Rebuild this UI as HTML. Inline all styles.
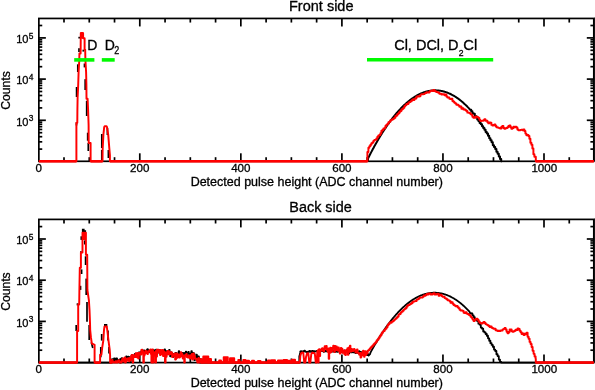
<!DOCTYPE html><html><head><meta charset="utf-8"><style>html,body{margin:0;padding:0;background:#fff;overflow:hidden}svg{display:block;will-change:transform}</style></head><body><svg width="595" height="390" viewBox="0 0 595 390" font-family='"Liberation Sans", sans-serif' fill="#000"><style>text{stroke:#000;stroke-width:0.3px;paint-order:stroke}</style><g stroke="#000" stroke-width="1.7" fill="none"><line x1="64" y1="161.3" x2="64" y2="157.2"/><line x1="64" y1="18.45" x2="64" y2="22.55"/><line x1="89.27" y1="161.3" x2="89.27" y2="157.2"/><line x1="89.27" y1="18.45" x2="89.27" y2="22.55"/><line x1="114.53" y1="161.3" x2="114.53" y2="157.2"/><line x1="114.53" y1="18.45" x2="114.53" y2="22.55"/><line x1="139.79" y1="161.3" x2="139.79" y2="153.3"/><line x1="139.79" y1="18.45" x2="139.79" y2="26.45"/><line x1="165.06" y1="161.3" x2="165.06" y2="157.2"/><line x1="165.06" y1="18.45" x2="165.06" y2="22.55"/><line x1="190.32" y1="161.3" x2="190.32" y2="157.2"/><line x1="190.32" y1="18.45" x2="190.32" y2="22.55"/><line x1="215.58" y1="161.3" x2="215.58" y2="157.2"/><line x1="215.58" y1="18.45" x2="215.58" y2="22.55"/><line x1="240.84" y1="161.3" x2="240.84" y2="153.3"/><line x1="240.84" y1="18.45" x2="240.84" y2="26.45"/><line x1="266.11" y1="161.3" x2="266.11" y2="157.2"/><line x1="266.11" y1="18.45" x2="266.11" y2="22.55"/><line x1="291.37" y1="161.3" x2="291.37" y2="157.2"/><line x1="291.37" y1="18.45" x2="291.37" y2="22.55"/><line x1="316.63" y1="161.3" x2="316.63" y2="157.2"/><line x1="316.63" y1="18.45" x2="316.63" y2="22.55"/><line x1="341.9" y1="161.3" x2="341.9" y2="153.3"/><line x1="341.9" y1="18.45" x2="341.9" y2="26.45"/><line x1="367.16" y1="161.3" x2="367.16" y2="157.2"/><line x1="367.16" y1="18.45" x2="367.16" y2="22.55"/><line x1="392.42" y1="161.3" x2="392.42" y2="157.2"/><line x1="392.42" y1="18.45" x2="392.42" y2="22.55"/><line x1="417.69" y1="161.3" x2="417.69" y2="157.2"/><line x1="417.69" y1="18.45" x2="417.69" y2="22.55"/><line x1="442.95" y1="161.3" x2="442.95" y2="153.3"/><line x1="442.95" y1="18.45" x2="442.95" y2="26.45"/><line x1="468.21" y1="161.3" x2="468.21" y2="157.2"/><line x1="468.21" y1="18.45" x2="468.21" y2="22.55"/><line x1="493.47" y1="161.3" x2="493.47" y2="157.2"/><line x1="493.47" y1="18.45" x2="493.47" y2="22.55"/><line x1="518.74" y1="161.3" x2="518.74" y2="157.2"/><line x1="518.74" y1="18.45" x2="518.74" y2="22.55"/><line x1="544" y1="161.3" x2="544" y2="153.3"/><line x1="544" y1="18.45" x2="544" y2="26.45"/><line x1="569.26" y1="161.3" x2="569.26" y2="157.2"/><line x1="569.26" y1="18.45" x2="569.26" y2="22.55"/><line x1="38.85" y1="149.1" x2="42.25" y2="149.1"/><line x1="593.8" y1="149.1" x2="590.4" y2="149.1"/><line x1="38.85" y1="141.84" x2="42.25" y2="141.84"/><line x1="593.8" y1="141.84" x2="590.4" y2="141.84"/><line x1="38.85" y1="136.7" x2="42.25" y2="136.7"/><line x1="593.8" y1="136.7" x2="590.4" y2="136.7"/><line x1="38.85" y1="132.7" x2="42.25" y2="132.7"/><line x1="593.8" y1="132.7" x2="590.4" y2="132.7"/><line x1="38.85" y1="129.44" x2="42.25" y2="129.44"/><line x1="593.8" y1="129.44" x2="590.4" y2="129.44"/><line x1="38.85" y1="126.68" x2="42.25" y2="126.68"/><line x1="593.8" y1="126.68" x2="590.4" y2="126.68"/><line x1="38.85" y1="124.29" x2="42.25" y2="124.29"/><line x1="593.8" y1="124.29" x2="590.4" y2="124.29"/><line x1="38.85" y1="122.19" x2="42.25" y2="122.19"/><line x1="593.8" y1="122.19" x2="590.4" y2="122.19"/><line x1="38.85" y1="120.3" x2="45.85" y2="120.3"/><line x1="593.8" y1="120.3" x2="586.8" y2="120.3"/><line x1="38.85" y1="107.9" x2="42.25" y2="107.9"/><line x1="593.8" y1="107.9" x2="590.4" y2="107.9"/><line x1="38.85" y1="100.64" x2="42.25" y2="100.64"/><line x1="593.8" y1="100.64" x2="590.4" y2="100.64"/><line x1="38.85" y1="95.5" x2="42.25" y2="95.5"/><line x1="593.8" y1="95.5" x2="590.4" y2="95.5"/><line x1="38.85" y1="91.5" x2="42.25" y2="91.5"/><line x1="593.8" y1="91.5" x2="590.4" y2="91.5"/><line x1="38.85" y1="88.24" x2="42.25" y2="88.24"/><line x1="593.8" y1="88.24" x2="590.4" y2="88.24"/><line x1="38.85" y1="85.48" x2="42.25" y2="85.48"/><line x1="593.8" y1="85.48" x2="590.4" y2="85.48"/><line x1="38.85" y1="83.09" x2="42.25" y2="83.09"/><line x1="593.8" y1="83.09" x2="590.4" y2="83.09"/><line x1="38.85" y1="80.99" x2="42.25" y2="80.99"/><line x1="593.8" y1="80.99" x2="590.4" y2="80.99"/><line x1="38.85" y1="79.1" x2="45.85" y2="79.1"/><line x1="593.8" y1="79.1" x2="586.8" y2="79.1"/><line x1="38.85" y1="66.7" x2="42.25" y2="66.7"/><line x1="593.8" y1="66.7" x2="590.4" y2="66.7"/><line x1="38.85" y1="59.44" x2="42.25" y2="59.44"/><line x1="593.8" y1="59.44" x2="590.4" y2="59.44"/><line x1="38.85" y1="54.3" x2="42.25" y2="54.3"/><line x1="593.8" y1="54.3" x2="590.4" y2="54.3"/><line x1="38.85" y1="50.3" x2="42.25" y2="50.3"/><line x1="593.8" y1="50.3" x2="590.4" y2="50.3"/><line x1="38.85" y1="47.04" x2="42.25" y2="47.04"/><line x1="593.8" y1="47.04" x2="590.4" y2="47.04"/><line x1="38.85" y1="44.28" x2="42.25" y2="44.28"/><line x1="593.8" y1="44.28" x2="590.4" y2="44.28"/><line x1="38.85" y1="41.89" x2="42.25" y2="41.89"/><line x1="593.8" y1="41.89" x2="590.4" y2="41.89"/><line x1="38.85" y1="39.79" x2="42.25" y2="39.79"/><line x1="593.8" y1="39.79" x2="590.4" y2="39.79"/><line x1="38.85" y1="37.9" x2="45.85" y2="37.9"/><line x1="593.8" y1="37.9" x2="586.8" y2="37.9"/><line x1="38.85" y1="25.5" x2="42.25" y2="25.5"/><line x1="593.8" y1="25.5" x2="590.4" y2="25.5"/><rect x="38.85" y="18.45" width="554.95" height="142.85" fill="none"/><line x1="594.6" y1="17.6" x2="594.6" y2="161.3" stroke-width="0.9"/></g><polygon fill="#ff0000" points="80.8,32.9 83.1,32.9 83.1,38.6 80.8,38.6"/><g stroke="#000" stroke-width="1.7"><line x1="79.2" y1="36.8" x2="79.2" y2="38.5"/><line x1="79.0" y1="48.2" x2="79.0" y2="52"/><line x1="77.8" y1="64.3" x2="77.8" y2="72"/><line x1="76.6" y1="87" x2="76.6" y2="97"/><line x1="76.5" y1="122.5" x2="76.5" y2="125.5"/><line x1="83.3" y1="49.7" x2="83.3" y2="51.6"/><line x1="84.5" y1="63.5" x2="84.5" y2="67.4"/><line x1="85.2" y1="79.2" x2="85.2" y2="90"/><line x1="86.7" y1="100.8" x2="86.7" y2="116"/><line x1="87.7" y1="132.7" x2="87.7" y2="140.7"/><line x1="88.3" y1="143" x2="88.3" y2="151"/><line x1="101.8" y1="134" x2="101.8" y2="148"/><line x1="101.8" y1="150" x2="101.8" y2="160"/><line x1="107.4" y1="128" x2="107.4" y2="135"/><line x1="108.4" y1="150" x2="108.4" y2="158"/></g><polyline fill="none" stroke="#000" stroke-width="2" stroke-linejoin="round" points="368,161.3 368,158.45 368.5,157.46 369,156.47 369.5,155.49 370,154.52 370.5,153.56 371,152.6 371.5,151.65 372,150.71 372.5,149.77 373,148.84 373.5,147.92 374,147 374.5,146.1 375,145.2 375.5,144.3 376,143.42 376.5,142.54 377,141.66 377.5,140.8 378,139.94 378.5,139.09 379,138.25 379.5,137.41 380,136.58 380.5,135.76 381,134.94 381.5,134.14 382,133.34 382.5,132.54 383,131.76 383.5,130.98 384,130.21 384.5,129.44 385,128.68 385.5,127.93 386,127.19 386.5,126.45 387,125.73 387.5,125 388,124.29 388.5,123.58 389,122.88 389.5,122.19 390,121.51 390.5,120.83 391,120.16 391.5,119.5 392,118.84 392.5,118.19 393,117.55 393.5,116.92 394,116.29 394.5,115.67 395,115.06 395.5,114.46 396,113.86 396.5,113.27 397,112.69 397.5,112.11 398,111.54 398.5,110.98 399,110.43 399.5,109.88 400,109.35 400.5,108.81 401,108.29 401.5,107.77 402,107.27 402.5,106.76 403,106.27 403.5,105.78 404,105.31 404.5,104.83 405,104.37 405.5,103.91 406,103.46 406.5,103.02 407,102.59 407.5,102.16 408,101.74 408.5,101.33 409,100.93 409.5,100.53 410,100.14 410.5,99.76 411,99.38 411.5,99.02 412,98.66 412.5,98.3 413,97.96 413.5,97.62 414,97.29 414.5,96.97 415,96.66 415.5,96.35 416,96.05 416.5,95.76 417,95.48 417.5,95.2 418,94.93 418.5,94.67 419,94.42 419.5,94.17 420,93.93 420.5,93.7 421,93.48 421.5,93.27 422,93.06 422.5,92.86 423,92.67 423.5,92.48 424,92.3 424.5,92.13 425,91.97 425.5,91.82 426,91.67 426.5,91.53 427,91.4 427.5,91.28 428,91.16 428.5,91.05 429,90.95 429.5,90.86 430,90.78 430.5,90.7 431,90.63 431.5,90.57 432,90.51 432.5,90.47 433,90.43 433.5,90.4 434,90.38 434.5,90.36 435,90.35 435.5,90.35 436,90.36 436.5,90.38 437,90.4 437.5,90.43 438,90.47 438.5,90.52 439,90.58 439.5,90.64 440,90.71 440.5,90.79 441,90.88 441.5,90.97 442,91.07 442.5,91.18 443,91.3 443.5,91.43 444,91.56 444.5,91.7 445,91.85 445.5,92.01 446,92.17 446.5,92.35 447,92.53 447.5,92.72 448,92.91 448.5,93.12 449,93.33 449.5,93.55 450,93.78 450.5,94.02 451,94.26 451.5,94.52 452,94.78 452.5,95.04 453,95.32 453.5,95.61 454,95.9 454.5,96.2 455,96.51 455.5,96.82 456,97.15 456.5,97.48 457,97.82 457.5,98.17 458,98.53 458.5,98.89 459,99.26 459.5,99.65 460,100.03 460.5,100.43 461,100.84 461.5,101.25 462,101.67 462.5,102.1 463,102.54 463.5,102.98 464,103.44 464.5,103.9 465,104.37 465.5,104.85 466,105.33 466.5,105.83 467,106.33 467.5,106.84 468,107.36 468.5,107.89 469,108.42 469.5,108.96 470,109.78 471.2,109.78 471.2,111.17 472.4,111.17 472.4,113.23 473.6,113.23 473.6,113.67 474.8,113.67 474.8,115.94 476,115.94 476,116.77 477.2,116.77 477.2,119.56 478.4,119.56 478.4,120.92 479.6,120.92 479.6,123.03 480.8,123.03 480.8,124.14 482,124.14 482,126.27 483.2,126.27 483.2,127.88 484.4,127.88 484.4,129.63 485.6,129.63 485.6,131.89 486.8,131.89 486.8,133.4 488,133.4 488,135.76 489.2,135.76 489.2,138.23 490.4,138.23 490.4,140.15 491.6,140.15 491.6,142.18 492.8,142.18 492.8,145.33 494,145.33 494,146.88 495.2,146.88 495.2,148.99 496.4,148.99 496.4,151.64 497.6,151.64 497.6,153.84 498.8,153.84 498.8,156.38 500,156.38 500,158.92 501.2,158.92 501.2,161.3 502,161.3 502,161.3"/><polyline fill="none" stroke="#ff0000" stroke-width="1.95" stroke-linejoin="round" points="38.85,161.3 76.4,161.3 76.4,122.7 77.3,122.7 77.4,110 77.6,98 78.2,85 78.6,72 79.3,60 79.4,53.5 80.6,53.5 80.8,33 81,32.9 83,32.9 83.1,33.5 83.1,38.2 84.6,38.2 84.6,49.7 85.2,49.7 85.4,60 86.1,72 86.4,85 86.5,98.7 87.6,98.7 88.1,110 88.6,125 88.7,143 90.6,143 90.6,161.3 102.5,161.3 102.5,161.3 102.6,152 102.7,148.2 103.4,134.7 104.2,127 104.8,126.2 106.4,126.2 107,127 108.2,134.7 109.3,148.2 109.9,155 109.9,161.3 367.4,161.3 367.4,152 368.4,152 368.4,147.75 369.4,147.75 369.4,146.13 370.4,146.13 370.4,144.76 371.4,144.76 371.4,143.34 372.4,143.34 372.4,142.55 373.4,142.55 373.4,140.87 374.4,140.87 374.4,139.85 375.4,139.85 375.4,139.74 376.4,139.74 376.4,138.58 377.4,138.58 377.4,136.79 378.4,136.79 378.4,135.37 379.4,135.37 379.4,134.93 380.4,134.93 380.4,133.15 381.4,133.15 381.4,130.76 382.4,130.76 382.4,129.94 383.4,129.94 383.4,128.59 384.4,128.59 384.4,128.26 385.4,128.26 385.4,126.02 386.4,126.02 386.4,124.63 387.4,124.63 387.4,124.03 388.4,124.03 388.4,122.33 389.4,122.33 389.4,121.71 390.4,121.71 390.4,120.27 391.4,120.27 391.4,119.66 392.4,119.66 392.4,119.32 393.4,119.32 393.4,118.54 394.4,118.54 394.4,117.65 395.4,117.65 395.4,116.03 396.4,116.03 396.4,115.46 397.4,115.46 397.4,114.04 398.4,114.04 398.4,113.15 399.4,113.15 399.4,111.8 400.4,111.8 400.4,111.09 401.4,111.09 401.4,109.58 402.4,109.58 402.4,108.69 403.4,108.69 403.4,107.86 404.4,107.86 404.4,105.95 405.4,105.95 405.4,105.13 406.4,105.13 406.4,103.96 407.4,103.96 407.4,104.08 408.4,104.08 408.4,102.46 409.4,102.46 409.4,102.1 410.4,102.1 410.4,101.39 411.4,101.39 411.4,100.42 412.4,100.42 412.4,99.35 413.4,99.35 413.4,99.98 414.4,99.98 414.4,98.83 415.4,98.83 415.4,98.51 416.4,98.51 416.4,96.77 417.4,96.77 417.4,96.33 418.4,96.33 418.4,96.53 419.4,96.53 419.4,96.22 420.4,96.22 420.4,94.6 421.4,94.6 421.4,94.2 422.4,94.2 422.4,94.28 423.4,94.28 423.4,94.13 424.4,94.13 424.4,93.37 425.4,93.37 425.4,93.01 426.4,93.01 426.4,92.13 427.4,92.13 427.4,92.53 428.4,92.53 428.4,92.46 429.4,92.46 429.4,91.46 430.4,91.46 430.4,90.7 431.4,90.7 431.4,90.7 432.4,90.7 432.4,91.12 433.4,91.12 433.4,89.89 434.4,89.89 434.4,91 435.4,91 435.4,91.4 436.4,91.4 436.4,91.93 437.4,91.93 437.4,92.24 438.4,92.24 438.4,92.76 439.4,92.76 439.4,93.82 440.4,93.82 440.4,93.7 441.4,93.7 441.4,94.46 442.4,94.46 442.4,94.14 443.4,94.14 443.4,94.34 444.4,94.34 444.4,95.2 445.4,95.2 445.4,94.54 446.4,94.54 446.4,96.57 447.4,96.57 447.4,97.44 448.4,97.44 448.4,97.47 449.4,97.47 449.4,98.85 450.4,98.85 450.4,99 451.4,99 451.4,98.8 452.4,98.8 452.4,100.92 453.4,100.92 453.4,101.68 454.4,101.68 454.4,102.87 455.4,102.87 455.4,103.53 456.4,103.53 456.4,104.66 457.4,104.66 457.4,104.8 458.4,104.8 458.4,105.62 459.4,105.62 459.4,106.68 460.4,106.68 460.4,106.57 461.4,106.57 461.4,108.74 462.4,108.74 462.4,108.31 463.4,108.31 463.4,109.6 464.4,109.6 464.4,109.51 465.4,109.51 465.4,110.17 466.4,110.17 466.4,111.01 467.4,111.01 467.4,112.63 468.4,112.63 468.4,112.71 469.4,112.71 469.4,113.05 470.4,113.05 470.4,114.12 471.4,114.12 471.4,114.82 472.4,114.82 472.4,116.78 473.4,116.78 473.4,117.79 474.4,117.79 474.4,117.89 475.4,117.89 475.4,116.48 476.4,116.48 476.4,116.68 477.4,116.68 477.4,117.12 478.4,117.12 478.4,117.91 479.4,117.91 479.4,119.87 480.4,119.87 480.4,120.93 481.4,120.93 481.4,120.88 482.4,120.88 482.4,120.72 483.4,120.72 483.4,120.27 484.4,120.27 484.4,119.2 485.4,119.2 485.4,120.87 486.4,120.87 486.4,120.64 487.4,120.64 487.4,122.21 488.4,122.21 488.4,123.38 489.4,123.38 489.4,122.57 490.4,122.57 490.4,122.63 491.4,122.63 491.4,124.88 492.4,124.88 492.4,125.4 493.4,125.4 493.4,125.06 494.4,125.06 494.4,124.36 495.4,124.36 495.4,126.02 496.4,126.02 496.4,127.27 497.4,127.27 497.4,127.42 498.4,127.42 498.4,127.85 499.4,127.85 499.4,128.2 500.4,128.2 500.4,128.56 501.4,128.56 501.4,126.72 502.4,126.72 502.4,126.09 503.4,126.09 503.4,128.05 504.4,128.05 504.4,128.79 505.4,128.79 505.4,128.23 506.4,128.23 506.4,128.08 507.4,128.08 507.4,127.17 508.4,127.17 508.4,125.9 509.4,125.9 509.4,125.55 510.4,125.55 510.4,127.22 511.4,127.22 511.4,128.75 512.4,128.75 512.4,128.14 513.4,128.14 513.4,126.8 514.4,126.8 514.4,127.21 515.4,127.21 515.4,126.69 516.4,126.69 516.4,127.54 517.4,127.54 517.4,129.44 518.4,129.44 518.4,130.31 519.4,130.31 519.4,130.23 520.4,130.23 520.4,129.87 521.4,129.87 521.4,129.74 522.4,129.74 522.4,130.17 523.4,130.17 523.4,129.53 524.4,129.53 524.4,131.04 525.4,131.04 525.4,133.6 526.4,133.6 526.4,135.33 527.4,135.33 527.4,135.04 528.4,135.04 528.4,136.02 529.4,136.02 529.4,138.71 530.4,138.71 530.4,142.74 531.4,142.74 531.4,144.67 532.4,144.67 532.4,148.41 533.4,148.41 533.4,154.24 534.4,154.24 534.4,156.72 535.4,156.72 535.4,156.79 535.8,156.79 535.8,161.3 593.8,161.3"/><g stroke="#ff0000" stroke-width="2.5"><line x1="38.85" y1="161.3" x2="76.4" y2="161.3"/><line x1="90.6" y1="161.3" x2="102.5" y2="161.3"/><line x1="109.9" y1="161.3" x2="367.4" y2="161.3"/><line x1="535.8" y1="161.3" x2="593.8" y2="161.3"/></g><text x="38.74" y="172.1" text-anchor="middle" font-size="11.6">0</text><text x="139.79" y="172.1" text-anchor="middle" font-size="11.6">200</text><text x="240.84" y="172.1" text-anchor="middle" font-size="11.6">400</text><text x="341.9" y="172.1" text-anchor="middle" font-size="11.6">600</text><text x="442.95" y="172.1" text-anchor="middle" font-size="11.6">800</text><text x="544.3" y="172.1" text-anchor="middle" font-size="11.6">1000</text><text x="16.2" y="125.5" font-size="11.8" textLength="12.3" lengthAdjust="spacingAndGlyphs">10</text><text x="28.7" y="120.9" font-size="8.4">3</text><text x="16.2" y="84.3" font-size="11.8" textLength="12.3" lengthAdjust="spacingAndGlyphs">10</text><text x="28.7" y="79.7" font-size="8.4">4</text><text x="16.2" y="43.1" font-size="11.8" textLength="12.3" lengthAdjust="spacingAndGlyphs">10</text><text x="28.7" y="38.5" font-size="8.4">5</text><text transform="translate(9.5,90.47) rotate(-90)" x="-19.2" font-size="12" textLength="38.4" lengthAdjust="spacingAndGlyphs">Counts</text><text x="316.8" y="186.1" text-anchor="middle" font-size="12" textLength="252.3" lengthAdjust="spacingAndGlyphs">Detected pulse height (ADC channel number)</text><g stroke="#00fa00" stroke-width="3.6"><line x1="74.2" y1="59.9" x2="94.4" y2="59.9"/><line x1="101.8" y1="59.9" x2="114.7" y2="59.9"/><line x1="367" y1="59.8" x2="493.2" y2="59.8"/></g><text x="87.3" y="49.8" font-size="14">D</text><text x="104.8" y="49.8" font-size="14">D</text><text x="114.3" y="53.9" font-size="10.6" textLength="5" lengthAdjust="spacingAndGlyphs">2</text><text x="394.2" y="49.9" font-size="14" textLength="64.4" lengthAdjust="spacingAndGlyphs">Cl, DCl, D</text><text x="458.7" y="56.3" font-size="9.4" textLength="4.8" lengthAdjust="spacingAndGlyphs">2</text><text x="463.2" y="49.9" font-size="14" textLength="14" lengthAdjust="spacingAndGlyphs">Cl</text><text x="289" y="10.5" font-size="14" textLength="64.5" lengthAdjust="spacingAndGlyphs">Front side</text><g stroke="#000" stroke-width="1.7" fill="none"><line x1="64" y1="362.6" x2="64" y2="358.5"/><line x1="64" y1="219.4" x2="64" y2="223.5"/><line x1="89.27" y1="362.6" x2="89.27" y2="358.5"/><line x1="89.27" y1="219.4" x2="89.27" y2="223.5"/><line x1="114.53" y1="362.6" x2="114.53" y2="358.5"/><line x1="114.53" y1="219.4" x2="114.53" y2="223.5"/><line x1="139.79" y1="362.6" x2="139.79" y2="354.6"/><line x1="139.79" y1="219.4" x2="139.79" y2="227.4"/><line x1="165.06" y1="362.6" x2="165.06" y2="358.5"/><line x1="165.06" y1="219.4" x2="165.06" y2="223.5"/><line x1="190.32" y1="362.6" x2="190.32" y2="358.5"/><line x1="190.32" y1="219.4" x2="190.32" y2="223.5"/><line x1="215.58" y1="362.6" x2="215.58" y2="358.5"/><line x1="215.58" y1="219.4" x2="215.58" y2="223.5"/><line x1="240.84" y1="362.6" x2="240.84" y2="354.6"/><line x1="240.84" y1="219.4" x2="240.84" y2="227.4"/><line x1="266.11" y1="362.6" x2="266.11" y2="358.5"/><line x1="266.11" y1="219.4" x2="266.11" y2="223.5"/><line x1="291.37" y1="362.6" x2="291.37" y2="358.5"/><line x1="291.37" y1="219.4" x2="291.37" y2="223.5"/><line x1="316.63" y1="362.6" x2="316.63" y2="358.5"/><line x1="316.63" y1="219.4" x2="316.63" y2="223.5"/><line x1="341.9" y1="362.6" x2="341.9" y2="354.6"/><line x1="341.9" y1="219.4" x2="341.9" y2="227.4"/><line x1="367.16" y1="362.6" x2="367.16" y2="358.5"/><line x1="367.16" y1="219.4" x2="367.16" y2="223.5"/><line x1="392.42" y1="362.6" x2="392.42" y2="358.5"/><line x1="392.42" y1="219.4" x2="392.42" y2="223.5"/><line x1="417.69" y1="362.6" x2="417.69" y2="358.5"/><line x1="417.69" y1="219.4" x2="417.69" y2="223.5"/><line x1="442.95" y1="362.6" x2="442.95" y2="354.6"/><line x1="442.95" y1="219.4" x2="442.95" y2="227.4"/><line x1="468.21" y1="362.6" x2="468.21" y2="358.5"/><line x1="468.21" y1="219.4" x2="468.21" y2="223.5"/><line x1="493.47" y1="362.6" x2="493.47" y2="358.5"/><line x1="493.47" y1="219.4" x2="493.47" y2="223.5"/><line x1="518.74" y1="362.6" x2="518.74" y2="358.5"/><line x1="518.74" y1="219.4" x2="518.74" y2="223.5"/><line x1="544" y1="362.6" x2="544" y2="354.6"/><line x1="544" y1="219.4" x2="544" y2="227.4"/><line x1="569.26" y1="362.6" x2="569.26" y2="358.5"/><line x1="569.26" y1="219.4" x2="569.26" y2="223.5"/><line x1="38.85" y1="350.2" x2="42.25" y2="350.2"/><line x1="593.8" y1="350.2" x2="590.4" y2="350.2"/><line x1="38.85" y1="342.94" x2="42.25" y2="342.94"/><line x1="593.8" y1="342.94" x2="590.4" y2="342.94"/><line x1="38.85" y1="337.8" x2="42.25" y2="337.8"/><line x1="593.8" y1="337.8" x2="590.4" y2="337.8"/><line x1="38.85" y1="333.8" x2="42.25" y2="333.8"/><line x1="593.8" y1="333.8" x2="590.4" y2="333.8"/><line x1="38.85" y1="330.54" x2="42.25" y2="330.54"/><line x1="593.8" y1="330.54" x2="590.4" y2="330.54"/><line x1="38.85" y1="327.78" x2="42.25" y2="327.78"/><line x1="593.8" y1="327.78" x2="590.4" y2="327.78"/><line x1="38.85" y1="325.39" x2="42.25" y2="325.39"/><line x1="593.8" y1="325.39" x2="590.4" y2="325.39"/><line x1="38.85" y1="323.29" x2="42.25" y2="323.29"/><line x1="593.8" y1="323.29" x2="590.4" y2="323.29"/><line x1="38.85" y1="321.4" x2="45.85" y2="321.4"/><line x1="593.8" y1="321.4" x2="586.8" y2="321.4"/><line x1="38.85" y1="309" x2="42.25" y2="309"/><line x1="593.8" y1="309" x2="590.4" y2="309"/><line x1="38.85" y1="301.74" x2="42.25" y2="301.74"/><line x1="593.8" y1="301.74" x2="590.4" y2="301.74"/><line x1="38.85" y1="296.6" x2="42.25" y2="296.6"/><line x1="593.8" y1="296.6" x2="590.4" y2="296.6"/><line x1="38.85" y1="292.6" x2="42.25" y2="292.6"/><line x1="593.8" y1="292.6" x2="590.4" y2="292.6"/><line x1="38.85" y1="289.34" x2="42.25" y2="289.34"/><line x1="593.8" y1="289.34" x2="590.4" y2="289.34"/><line x1="38.85" y1="286.58" x2="42.25" y2="286.58"/><line x1="593.8" y1="286.58" x2="590.4" y2="286.58"/><line x1="38.85" y1="284.19" x2="42.25" y2="284.19"/><line x1="593.8" y1="284.19" x2="590.4" y2="284.19"/><line x1="38.85" y1="282.09" x2="42.25" y2="282.09"/><line x1="593.8" y1="282.09" x2="590.4" y2="282.09"/><line x1="38.85" y1="280.2" x2="45.85" y2="280.2"/><line x1="593.8" y1="280.2" x2="586.8" y2="280.2"/><line x1="38.85" y1="267.8" x2="42.25" y2="267.8"/><line x1="593.8" y1="267.8" x2="590.4" y2="267.8"/><line x1="38.85" y1="260.54" x2="42.25" y2="260.54"/><line x1="593.8" y1="260.54" x2="590.4" y2="260.54"/><line x1="38.85" y1="255.4" x2="42.25" y2="255.4"/><line x1="593.8" y1="255.4" x2="590.4" y2="255.4"/><line x1="38.85" y1="251.4" x2="42.25" y2="251.4"/><line x1="593.8" y1="251.4" x2="590.4" y2="251.4"/><line x1="38.85" y1="248.14" x2="42.25" y2="248.14"/><line x1="593.8" y1="248.14" x2="590.4" y2="248.14"/><line x1="38.85" y1="245.38" x2="42.25" y2="245.38"/><line x1="593.8" y1="245.38" x2="590.4" y2="245.38"/><line x1="38.85" y1="242.99" x2="42.25" y2="242.99"/><line x1="593.8" y1="242.99" x2="590.4" y2="242.99"/><line x1="38.85" y1="240.89" x2="42.25" y2="240.89"/><line x1="593.8" y1="240.89" x2="590.4" y2="240.89"/><line x1="38.85" y1="239" x2="45.85" y2="239"/><line x1="593.8" y1="239" x2="586.8" y2="239"/><line x1="38.85" y1="226.6" x2="42.25" y2="226.6"/><line x1="593.8" y1="226.6" x2="590.4" y2="226.6"/><rect x="38.85" y="219.4" width="554.95" height="143.2" fill="none"/><line x1="594.6" y1="218.55" x2="594.6" y2="362.6" stroke-width="0.9"/></g><g stroke="#000" stroke-width="1.7"><line x1="81.3" y1="236.3" x2="81.3" y2="239.9"/><line x1="80.9" y1="251.2" x2="80.9" y2="252.8"/><line x1="81.6" y1="269.4" x2="81.6" y2="274"/><line x1="80.5" y1="285.8" x2="80.5" y2="289.9"/><line x1="77.5" y1="303.3" x2="77.5" y2="305.4"/><line x1="76.2" y1="325" x2="76.2" y2="331"/><line x1="84.8" y1="240.4" x2="84.8" y2="244.5"/><line x1="85.6" y1="256.3" x2="85.6" y2="265"/><line x1="86.2" y1="278.6" x2="86.2" y2="295"/><line x1="87.0" y1="302" x2="87.0" y2="321.8"/><line x1="89.2" y1="325" x2="89.2" y2="340"/><line x1="101.7" y1="334" x2="101.7" y2="340.6"/><line x1="100.8" y1="347" x2="100.8" y2="357.3"/><line x1="108.0" y1="330.4" x2="108.0" y2="340.6"/><line x1="109.0" y1="347" x2="109.0" y2="353.5"/><line x1="91.3" y1="342.4" x2="92.8" y2="348"/></g><polygon fill="#000" points="81.9,228.7 84.6,228.7 84.6,230.2 86.1,230.2 86.1,232.8 81.9,232.8"/><rect x="82.5" y="232.8" width="3.4" height="7.2" fill="#ff0000"/><rect x="104" y="324" width="3.3" height="2.8" fill="#000"/><polyline fill="none" stroke="#000" stroke-width="1.8" stroke-linejoin="round" points="38.85,362.6 112,362.6 112,359.16 112.51,359.16 112.51,360.94 113.01,360.94 113.01,361.57 113.52,361.57 113.52,359.58 114.02,359.58 114.02,358.48 114.53,358.48 114.53,360.09 115.03,360.09 115.03,360.76 115.54,360.76 115.54,361.53 116.04,361.53 116.04,358.48 116.55,358.48 116.55,358.35 117.05,358.35 117.05,360.91 117.56,360.91 117.56,360.57 118.06,360.57 118.06,361.91 118.57,361.91 118.57,361.16 119.07,361.16 119.07,359.72 119.58,359.72 119.58,359.46 120.08,359.46 120.08,362.6 120.59,362.6 120.59,359.29 121.09,359.29 121.09,358.57 121.6,358.57 121.6,358.03 122.11,358.03 122.11,359.56 122.61,359.56 122.61,359.54 123.12,359.54 123.12,358.83 123.62,358.83 123.62,359.12 124.13,359.12 124.13,359.47 124.63,359.47 124.63,359.94 125.14,359.94 125.14,360.39 125.64,360.39 125.64,359.16 126.15,359.16 126.15,356.48 126.65,356.48 126.65,359.64 127.16,359.64 127.16,356.8 127.66,356.8 127.66,358.35 128.17,358.35 128.17,356.57 128.67,356.57 128.67,358.41 129.18,358.41 129.18,357.16 129.68,357.16 129.68,358.19 130.19,358.19 130.19,361.93 130.69,361.93 130.69,357.31 131.2,357.31 131.2,358.21 131.71,358.21 131.71,355.13 132.21,355.13 132.21,356.21 132.72,356.21 132.72,357.18 133.22,357.18 133.22,355.94 133.73,355.94 133.73,356.29 134.23,356.29 134.23,355.69 134.74,355.69 134.74,354 135.24,354 135.24,355.79 135.75,355.79 135.75,353.74 136.25,353.74 136.25,356.98 136.76,356.98 136.76,353.64 137.26,353.64 137.26,354.93 137.77,354.93 137.77,353.79 138.27,353.79 138.27,354.71 138.78,354.71 138.78,352.38 139.28,352.38 139.28,354.14 139.79,354.14 139.79,352.37 140.29,352.37 140.29,353.86 140.8,353.86 140.8,352.71 141.31,352.71 141.31,351.77 141.81,351.77 141.81,350.26 142.32,350.26 142.32,351.99 142.82,351.99 142.82,351.56 143.33,351.56 143.33,353.03 143.83,353.03 143.83,350.36 144.34,350.36 144.34,351.53 144.84,351.53 144.84,351.42 145.35,351.42 145.35,351.08 145.85,351.08 145.85,350.93 146.36,350.93 146.36,350.85 146.86,350.85 146.86,349.79 147.37,349.79 147.37,349.2 147.87,349.2 147.87,349.96 148.38,349.96 148.38,351.2 148.88,351.2 148.88,352.35 149.39,352.35 149.39,351.6 149.89,351.6 149.89,351.69 150.4,351.69 150.4,351.39 150.91,351.39 150.91,351.35 151.41,351.35 151.41,350.75 151.92,350.75 151.92,351.57 152.42,351.57 152.42,352.94 152.93,352.94 152.93,350.27 153.43,350.27 153.43,349.86 153.94,349.86 153.94,353.37 154.44,353.37 154.44,351.2 154.95,351.2 154.95,352.21 155.45,352.21 155.45,352.15 155.96,352.15 155.96,349.6 156.46,349.6 156.46,354.3 156.97,354.3 156.97,353.51 157.47,353.51 157.47,351.5 157.98,351.5 157.98,352.29 158.48,352.29 158.48,351.52 158.99,351.52 158.99,350.24 159.49,350.24 159.49,351.28 160,351.28 160,351.95 160.5,351.95 160.5,352.95 161.01,352.95 161.01,352.46 161.52,352.46 161.52,351.65 162.02,351.65 162.02,353.37 162.53,353.37 162.53,350.65 163.03,350.65 163.03,352.71 163.54,352.71 163.54,353.16 164.04,353.16 164.04,351.37 164.55,351.37 164.55,349.46 165.05,349.46 165.05,350.71 165.56,350.71 165.56,352.34 166.06,352.34 166.06,352.86 166.57,352.86 166.57,354.33 167.07,354.33 167.07,351.16 167.58,351.16 167.58,352.61 168.08,352.61 168.08,353.6 168.59,353.6 168.59,352.69 169.09,352.69 169.09,349.96 169.6,349.96 169.6,354.23 170.1,354.23 170.1,356.34 170.61,356.34 170.61,354.78 171.12,354.78 171.12,352.43 171.62,352.43 171.62,353.23 172.13,353.23 172.13,354.08 172.63,354.08 172.63,357.01 173.14,357.01 173.14,354.56 173.64,354.56 173.64,353.88 174.15,353.88 174.15,355.74 174.65,355.74 174.65,353.6 175.16,353.6 175.16,356.11 175.66,356.11 175.66,352.78 176.17,352.78 176.17,353.04 176.67,353.04 176.67,354.57 177.18,354.57 177.18,355.47 177.68,355.47 177.68,354.45 178.19,354.45 178.19,353.98 178.69,353.98 178.69,351.2 179.2,351.2 179.2,352.62 179.7,352.62 179.7,352.74 180.21,352.74 180.21,352.82 180.72,352.82 180.72,354.26 181.22,354.26 181.22,353.05 181.73,353.05 181.73,354.49 182.23,354.49 182.23,353.56 182.74,353.56 182.74,353 183.24,353 183.24,353.57 183.75,353.57 183.75,353.96 184.25,353.96 184.25,354.53 184.76,354.53 184.76,352.81 185.26,352.81 185.26,353.15 185.77,353.15 185.77,351.69 186.27,351.69 186.27,355.57 186.78,355.57 186.78,355.39 187.28,355.39 187.28,353.29 187.79,353.29 187.79,352.91 188.29,352.91 188.29,351.94 188.8,351.94 188.8,353.79 189.3,353.79 189.3,353.85 189.81,353.85 189.81,356.46 190.32,356.46 190.32,354.17 190.82,354.17 190.82,353.06 191.33,353.06 191.33,351.12 191.83,351.12 191.83,356.35 192.34,356.35 192.34,354.99 192.84,354.99 192.84,352.87 193.35,352.87 193.35,355.42 193.85,355.42 193.85,353.31 194.36,353.31 194.36,360.15 194.86,360.15 194.86,357.37 195.37,357.37 195.37,357.16 195.87,357.16 195.87,356.7 196.38,356.7 196.38,354.65 196.88,354.65 196.88,357.75 197.39,357.75 197.39,356.31 197.89,356.31 197.89,359.53 198.4,359.53 198.4,356.4 198.9,356.4 198.9,358.42 199.41,358.42 199.41,361.6 199.92,361.6 199.92,362.6 200.42,362.6 200.42,359.44 200.93,359.44 200.93,359.27 201,359.27 201,362.6 299.3,362.6 299.3,355.91 299.81,355.91 299.81,354.01 300.31,354.01 300.31,351.36 300.82,351.36 300.82,351.25 301.32,351.25 301.32,351.96 301.83,351.96 301.83,351.49 302.33,351.49 302.33,351.31 302.84,351.31 302.84,352.33 303.34,352.33 303.34,351.17 303.85,351.17 303.85,350.78 304.35,350.78 304.35,350.71 304.86,350.71 304.86,351.12 305.36,351.12 305.36,351.7 305.87,351.7 305.87,351.78 306.37,351.78 306.37,351.91 306.88,351.91 306.88,352.26 307.38,352.26 307.38,352.18 307.89,352.18 307.89,351.64 308.39,351.64 308.39,351.97 308.9,351.97 308.9,351.62 309.41,351.62 309.41,351 309.91,351 309.91,351.69 310.42,351.69 310.42,351.29 310.92,351.29 310.92,351.15 311.43,351.15 311.43,352.24 311.93,352.24 311.93,351.61 312.44,351.61 312.44,350.97 312.94,350.97 312.94,351.16 313.45,351.16 313.45,352.37 313.95,352.37 313.95,351.05 314.46,351.05 314.46,351.53 314.96,351.53 314.96,351.46 315.47,351.46 315.47,351.4 315.97,351.4 315.97,351.42 316.48,351.42 316.48,350.87 316.98,350.87 316.98,350.86 317.49,350.86 317.49,351 317.99,351 317.99,350.89 318.5,350.89 318.5,351.47 319.01,351.47 319.01,351.83 319.51,351.83 319.51,350.58 320.02,350.58 320.02,351.31 320.52,351.31 320.52,350.54 321.03,350.54 321.03,350.69 321.53,350.69 321.53,350.92 322.04,350.92 322.04,351.11 322.54,351.11 322.54,350.83 323.05,350.83 323.05,349.74 323.55,349.74 323.55,351.77 324.06,351.77 324.06,350.93 324.56,350.93 324.56,350.75 325.07,350.75 325.07,351.43 325.57,351.43 325.57,350.78 326.08,350.78 326.08,350.37 326.58,350.37 326.58,351.34 327.09,351.34 327.09,351.31 327.59,351.31 327.59,350.69 328.1,350.69 328.1,351.54 328.61,351.54 328.61,351.31 329.11,351.31 329.11,350.55 329.62,350.55 329.62,352.01 330.12,352.01 330.12,351.27 330.63,351.27 330.63,350.56 331.13,350.56 331.13,351.37 331.64,351.37 331.64,351.21 332.14,351.21 332.14,351.64 332.65,351.64 332.65,350.47 333.15,350.47 333.15,351.69 333.66,351.69 333.66,351.64 334.16,351.64 334.16,351.52 334.67,351.52 334.67,351.49 335.17,351.49 335.17,351.85 335.68,351.85 335.68,351.55 336.18,351.55 336.18,351.26 336.69,351.26 336.69,350.77 337.19,350.77 337.19,351.77 337.7,351.77 337.7,351.7 338.21,351.7 338.21,351.36 338.71,351.36 338.71,351.29 339.22,351.29 339.22,351.59 339.72,351.59 339.72,349.95 340.23,349.95 340.23,351.41 340.73,351.41 340.73,350 341.24,350 341.24,351.41 341.74,351.41 341.74,351.84 342.25,351.84 342.25,352.29 342.75,352.29 342.75,351.11 343.26,351.11 343.26,351.58 343.76,351.58 343.76,351.35 344.27,351.35 344.27,350.28 344.77,350.28 344.77,351.8 345.28,351.8 345.28,351.44 345.78,351.44 345.78,351.5 346.29,351.5 346.29,351.01 346.79,351.01 346.79,351.49 347.3,351.49 347.3,351.57 347.8,351.57 347.8,352.2 348.31,352.2 348.31,351.72 348.82,351.72 348.82,353.36 349.32,353.36 349.32,351.4 349.83,351.4 349.83,351.49 350.33,351.49 350.33,351.62 350.84,351.62 350.84,351.26 351.34,351.26 351.34,352.45 351.85,352.45 351.85,352.04 352.35,352.04 352.35,351.08 352.86,351.08 352.86,351.8 353.36,351.8 353.36,352.35 353.87,352.35 353.87,351.07 354.37,351.07 354.37,351.88 354.88,351.88 354.88,351.71 355.38,351.71 355.38,353.03 355.89,353.03 355.89,352.08 356.39,352.08 356.39,351.68 356.9,351.68 356.9,351.63 357.4,351.63 357.4,352.89 357.91,352.89 357.91,351.71 358.42,351.71 358.42,353.13 358.92,353.13 358.92,351.2 359.43,351.2 359.43,351.91 359.93,351.91 359.93,351.94 360.44,351.94 360.44,351.83 360.94,351.83 360.94,352.19 361.45,352.19 361.45,352.77 361.95,352.77 361.95,352.2 362.46,352.2 362.46,351.92 362.96,351.92 362.96,353.45 363.47,353.45 363.47,353.63 363.97,353.63 363.97,352.65 364.48,352.65 364.48,353.27 364.98,353.27 364.98,351.93 365.49,351.93 365.49,353.88 365.99,353.88 365.99,352.79 366.5,352.79 366.5,353.43 367,353.43 367,355.19 367.51,355.19 367.51,353.83 368.02,353.83 368.02,354.86 368.52,354.86 368.52,354.44 368.6,354.44 368.6,355.5 370,354.2 370.5,352.5 371,351.59 371.5,350.68 372,349.78 372.5,348.89 373,348 373.5,347.12 374,346.24 374.5,345.38 375,344.52 375.5,343.67 376,342.82 376.5,341.98 377,341.15 377.5,340.32 378,339.5 378.5,338.69 379,337.89 379.5,337.09 380,336.3 380.5,335.51 381,334.74 381.5,333.96 382,333.2 382.5,332.44 383,331.69 383.5,330.95 384,330.22 384.5,329.49 385,328.77 385.5,328.05 386,327.34 386.5,326.64 387,325.95 387.5,325.26 388,324.58 388.5,323.91 389,323.24 389.5,322.58 390,321.93 390.5,321.28 391,320.65 391.5,320.02 392,319.39 392.5,318.77 393,318.16 393.5,317.56 394,316.97 394.5,316.38 395,315.8 395.5,315.22 396,314.65 396.5,314.09 397,313.54 397.5,312.99 398,312.45 398.5,311.92 399,311.4 399.5,310.88 400,310.37 400.5,309.87 401,309.37 401.5,308.88 402,308.4 402.5,307.92 403,307.46 403.5,307 404,306.54 404.5,306.1 405,305.66 405.5,305.23 406,304.8 406.5,304.38 407,303.97 407.5,303.57 408,303.18 408.5,302.79 409,302.41 409.5,302.03 410,301.67 410.5,301.31 411,300.96 411.5,300.61 412,300.27 412.5,299.94 413,299.62 413.5,299.3 414,299 414.5,298.7 415,298.4 415.5,298.12 416,297.84 416.5,297.57 417,297.3 417.5,297.04 418,296.8 418.5,296.55 419,296.32 419.5,296.09 420,295.87 420.5,295.66 421,295.45 421.5,295.26 422,295.07 422.5,294.88 423,294.71 423.5,294.54 424,294.38 424.5,294.22 425,294.08 425.5,293.94 426,293.81 426.5,293.69 427,293.57 427.5,293.46 428,293.36 428.5,293.27 429,293.18 429.5,293.1 430,293.03 430.5,292.97 431,292.91 431.5,292.87 432,292.82 432.5,292.79 433,292.77 433.5,292.75 434,292.74 434.5,292.73 435,292.74 435.5,292.75 436,292.77 436.5,292.8 437,292.83 437.5,292.87 438,292.92 438.5,292.98 439,293.05 439.5,293.12 440,293.2 440.5,293.29 441,293.39 441.5,293.49 442,293.6 442.5,293.72 443,293.85 443.5,293.98 444,294.12 444.5,294.27 445,294.43 445.5,294.59 446,294.77 446.5,294.95 447,295.13 447.5,295.33 448,295.53 448.5,295.75 449,295.96 449.5,296.19 450,296.43 450.5,296.67 451,296.92 451.5,297.18 452,297.44 452.5,297.72 453,298 453.5,298.29 454,298.58 454.5,298.89 455,299.2 455.5,299.52 456,299.85 456.5,300.19 457,300.53 457.5,300.88 458,301.24 458.5,301.61 459,301.98 459.5,302.37 460,302.76 460.5,303.16 461,303.56 461.5,303.98 462,304.4 462.5,304.83 463,305.27 463.5,305.72 464,306.17 464.5,306.63 465,307.1 465.5,307.58 466,308.07 466.5,308.56 467,309.07 467.5,309.58 468,310.09 468.5,310.62 469,311.15 469.5,311.7 470,313.14 471.2,313.14 471.2,313.49 472.4,313.49 472.4,315.37 473.6,315.37 473.6,317.22 474.8,317.22 474.8,319.36 476,319.36 476,320.26 477.2,320.26 477.2,321.12 478.4,321.12 478.4,323.67 479.6,323.67 479.6,324.69 480.8,324.69 480.8,327.53 482,327.53 482,328.66 483.2,328.66 483.2,331.42 484.4,331.42 484.4,332.45 485.6,332.45 485.6,333.98 486.8,333.98 486.8,335.76 488,335.76 488,338.3 489.2,338.3 489.2,340.74 490.4,340.74 490.4,343.2 491.6,343.2 491.6,344.96 492.8,344.96 492.8,346.73 494,346.73 494,349.56 495.2,349.56 495.2,351 496.4,351 496.4,354.24 497.6,354.24 497.6,356.09 498.8,356.09 498.8,359.57 500,359.57 500,361.85 501.2,361.85 501.2,362.6 502.4,362.6 502.4,362.6 502.5,362.6 503,362.6 593.8,362.6"/><polygon fill="#ff0000" stroke="none" points="200.5,362.6 200.5,362.6 200.5,359.1 203.3,359.1 203.3,362.6 203.3,362.6 203.3,356.4 208.3,356.4 208.3,362.6 208.3,362.6 208.3,359 211,359 211,362.6 219.2,362.6 219.2,360.5 221,360.5 221,362.6 223.7,362.6 223.7,357.3 227.8,357.3 227.8,362.6 230,362.6 230,358.2 234.2,358.2 234.2,362.6 238.3,362.6 238.3,360 239.6,360 239.6,362.6 243.3,362.6 243.3,360 245.5,360 245.5,362.6 245.5,362.6 245.5,360.6 249,360.6 249,362.6 252,362.6 252,360.8 254,360.8 254,362.6 258,362.6 258,360.9 260.5,360.9 260.5,362.6 268,362.6 268,360.5 270.5,360.5 270.5,362.6 271.5,362.6 271.5,360.3 275,360.3 275,362.6 278,362.6 278,360.5 282,360.5 282,362.6 283.5,362.6 283.5,360 287,360 287,362.6 288,362.6 288,360.6 290,360.6 290,362.6 292,362.6 292,359.6 295,359.6 295,362.6 295,362.6"/><polyline fill="none" stroke="#ff0000" stroke-width="1.95" stroke-linejoin="round" points="38.85,362.6 77.1,362.6 77.1,331 78.2,331 78.2,304.4 79.2,304.4 79.4,290 79.8,267.8 80.9,267.8 80.9,252.5 82.5,252.5 82.5,232.8 85.9,232.8 85.9,254.8 87.2,254.8 87.4,290 88.9,300.3 89.5,310 90,322.8 90.2,330 90.9,337.2 91.8,343.5 94.6,344.8 94.6,362.6 100.1,362.6 100.1,362.6 100.1,354.7 101.4,354.7 102.3,347 103.3,340.6 104,330 104.5,326.5 106.8,326.5 107.5,332 108.5,340.6 109.7,349.6 110.1,355 110.1,362.6 110.5,362.42 111.01,362.42 111.01,361.16 111.51,361.16 111.51,362.6 112.02,362.6 112.02,360.04 112.52,360.04 112.52,361.85 113.03,361.85 113.03,361.78 113.53,361.78 113.53,362.6 114.04,362.6 114.04,362.51 114.54,362.51 114.54,362.6 115.05,362.6 115.05,362.6 115.55,362.6 115.55,361.26 116.06,361.26 116.06,361.25 116.56,361.25 116.56,362.6 117.07,362.6 117.07,362.6 117.57,362.6 117.57,361.61 118.08,361.61 118.08,360.75 118.58,360.75 118.58,360.24 119.09,360.24 119.09,360.89 119.59,360.89 119.59,362.6 120.1,362.6 120.1,361.7 120.61,361.7 120.61,361.88 121.11,361.88 121.11,362.6 121.62,362.6 121.62,361.04 122.12,361.04 122.12,359.25 122.63,359.25 122.63,358.53 123.13,358.53 123.13,361.01 123.64,361.01 123.64,361.53 124.14,361.53 124.14,359.72 124.65,359.72 124.65,357.5 125.15,357.5 125.15,362.6 125.66,362.6 125.66,361.87 126.16,361.87 126.16,361.26 126.67,361.26 126.67,358.61 127.17,358.61 127.17,360.13 127.68,360.13 127.68,358.78 128.18,358.78 128.18,358.28 128.69,358.28 128.69,360.7 129.19,360.7 129.19,361.19 129.7,361.19 129.7,357.9 130.21,357.9 130.21,358.05 130.71,358.05 130.71,360.12 131.22,360.12 131.22,355.51 131.72,355.51 131.72,356.32 132.23,356.32 132.23,354.98 132.73,354.98 132.73,362.6 133.24,362.6 133.24,357.11 133.74,357.11 133.74,355.27 134.25,355.27 134.25,357.06 134.75,357.06 134.75,357.1 135.26,357.1 135.26,357.09 135.76,357.09 135.76,353.19 136.27,353.19 136.27,356.34 136.77,356.34 136.77,355.17 137.28,355.17 137.28,357.46 137.78,357.46 137.78,352.93 138.29,352.93 138.29,358.51 138.79,358.51 138.79,353.04 139.3,353.04 139.3,354.44 139.81,354.44 139.81,353.86 140.31,353.86 140.31,353.13 140.82,353.13 140.82,354.45 141.32,354.45 141.32,349.98 141.83,349.98 141.83,349.66 142.33,349.66 142.33,350.49 142.84,350.49 142.84,351.79 143.34,351.79 143.34,362.6 143.85,362.6 143.85,355.63 144.35,355.63 144.35,354.86 144.86,354.86 144.86,352.55 145.36,352.55 145.36,350.78 145.87,350.78 145.87,351.28 146.37,351.28 146.37,352.9 146.88,352.9 146.88,351.37 147.38,351.37 147.38,354.07 147.89,354.07 147.89,352.22 148.39,352.22 148.39,351.24 148.9,351.24 148.9,350.92 149.41,350.92 149.41,350.32 149.91,350.32 149.91,351.77 150.42,351.77 150.42,349.52 150.92,349.52 150.92,354.03 151.43,354.03 151.43,362.6 151.93,362.6 151.93,354.4 152.44,354.4 152.44,349.58 152.94,349.58 152.94,362.6 153.45,362.6 153.45,355.29 153.95,355.29 153.95,353.55 154.46,353.55 154.46,352.23 154.96,352.23 154.96,355.44 155.47,355.44 155.47,362.6 155.97,362.6 155.97,350.91 156.48,350.91 156.48,356.54 156.98,356.54 156.98,349.6 157.49,349.6 157.49,351.18 157.99,351.18 157.99,349.72 158.5,349.72 158.5,352.59 159,352.59 159,352.03 159.51,352.03 159.51,350.5 160.02,350.5 160.02,355.03 160.52,355.03 160.52,349.9 161.03,349.9 161.03,353.89 161.53,353.89 161.53,352.93 162.04,352.93 162.04,354.33 162.54,354.33 162.54,350.04 163.05,350.04 163.05,355.93 163.55,355.93 163.55,353.47 164.06,353.47 164.06,351.59 164.56,351.59 164.56,354.48 165.07,354.48 165.07,362.6 165.57,362.6 165.57,353.49 166.08,353.49 166.08,356.7 166.58,356.7 166.58,352.31 167.09,352.31 167.09,354.27 167.59,354.27 167.59,351.01 168.1,351.01 168.1,351.16 168.6,351.16 168.6,351.3 169.11,351.3 169.11,354.61 169.62,354.61 169.62,352.23 170.12,352.23 170.12,352.32 170.63,352.32 170.63,353.92 171.13,353.92 171.13,352.15 171.64,352.15 171.64,353.08 172.14,353.08 172.14,357 172.65,357 172.65,355.4 173.15,355.4 173.15,355.14 173.66,355.14 173.66,354.27 174.16,354.27 174.16,355.83 174.67,355.83 174.67,353.55 175.17,353.55 175.17,359.62 175.68,359.62 175.68,358.96 176.18,358.96 176.18,358.2 176.69,358.2 176.69,353.57 177.19,353.57 177.19,357.48 177.7,357.48 177.7,356.68 178.2,356.68 178.2,354.45 178.71,354.45 178.71,356.69 179.22,356.69 179.22,357.44 179.72,357.44 179.72,354.6 180.23,354.6 180.23,356.84 180.73,356.84 180.73,352.34 181.24,352.34 181.24,355.95 181.74,355.95 181.74,353.67 182.25,353.67 182.25,355.91 182.75,355.91 182.75,358.4 183.26,358.4 183.26,355.6 183.76,355.6 183.76,357.14 184.27,357.14 184.27,362.6 184.77,362.6 184.77,355.11 185.28,355.11 185.28,354.87 185.78,354.87 185.78,355.11 186.29,355.11 186.29,354.09 186.79,354.09 186.79,356.95 187.3,356.95 187.3,357.26 187.8,357.26 187.8,357.59 188.31,357.59 188.31,356.18 188.82,356.18 188.82,355.36 189.32,355.36 189.32,355.55 189.83,355.55 189.83,358.59 190.33,358.59 190.33,355.54 190.84,355.54 190.84,355.23 191.34,355.23 191.34,358.38 191.85,358.38 191.85,353.97 192.35,353.97 192.35,359.57 192.86,359.57 192.86,357.71 193.36,357.71 193.36,353.59 193.87,353.59 193.87,357.46 194.37,357.46 194.37,356.02 194.88,356.02 194.88,358.67 195.38,358.67 195.38,358.51 195.89,358.51 195.89,358.66 196.39,358.66 196.39,359.43 196.9,359.43 196.9,360.8 197.4,360.8 197.4,362.6 197.91,362.6 197.91,358.94 198.42,358.94 198.42,357.95 198.92,357.95 198.92,362.6 199.43,362.6 199.43,360.38 199.93,360.38 199.93,361.54 200.44,361.54 200.44,359.97 200.94,359.97 200.94,362.6 201.45,362.6 201,362.6 200.5,362.6 200.5,359.1 203.3,359.1 203.3,362.6 203.3,362.6 203.3,356.4 208.3,356.4 208.3,362.6 208.3,362.6 208.3,359 211,359 211,362.6 219.2,362.6 219.2,360.5 221,360.5 221,362.6 223.7,362.6 223.7,357.3 227.8,357.3 227.8,362.6 230,362.6 230,358.2 234.2,358.2 234.2,362.6 238.3,362.6 238.3,360 239.6,360 239.6,362.6 243.3,362.6 243.3,360 245.5,360 245.5,362.6 245.5,362.6 245.5,360.6 249,360.6 249,362.6 252,362.6 252,360.8 254,360.8 254,362.6 258,362.6 258,360.9 260.5,360.9 260.5,362.6 268,362.6 268,360.5 270.5,360.5 270.5,362.6 271.5,362.6 271.5,360.3 275,360.3 275,362.6 278,362.6 278,360.5 282,360.5 282,362.6 283.5,362.6 283.5,360 287,360 287,362.6 288,362.6 288,360.6 290,360.6 290,362.6 292,362.6 292,359.6 295,359.6 295,362.6 299.8,362.6 299.8,362.6 300.3,356 301.2,353 302.2,352.5 303.3,353 304.3,362.6 305.3,362.6 306,357 307,353.5 308.3,353.2 309.3,362.6 310.3,362.6 311.3,354 312.2,352.6 313.6,353 314.8,353.5 315.8,362.6 316.6,362.6 317.4,351 318.6,349.5 318.6,362.6 318.6,350.46 319.11,350.46 319.11,349.27 319.61,349.27 319.61,356 320.12,356 320.12,350.52 320.62,350.52 320.62,349.94 321.13,349.94 321.13,350.42 321.63,350.42 321.63,348.64 322.14,348.64 322.14,348.27 322.64,348.27 322.64,350.64 323.15,350.64 323.15,348.81 323.65,348.81 323.65,351.19 324.16,351.19 324.16,349.28 324.66,349.28 324.66,346.34 325.17,346.34 325.17,347.26 325.67,347.26 325.67,348.16 326.18,348.16 326.18,346.07 326.68,346.07 326.68,349.72 327.19,349.72 327.19,349.36 327.69,349.36 327.69,351.72 328.2,351.72 328.2,348.37 328.71,348.37 328.71,358.72 329.21,358.72 329.21,353.37 329.72,353.37 329.72,351.21 330.22,351.21 330.22,347.64 330.73,347.64 330.73,352.18 331.23,352.18 331.23,347.88 331.74,347.88 331.74,351.06 332.24,351.06 332.24,347.99 332.75,347.99 332.75,347.51 333.25,347.51 333.25,345.7 333.76,345.7 333.76,347.56 334.26,347.56 334.26,352.05 334.77,352.05 334.77,346.09 335.27,346.09 335.27,349.94 335.78,349.94 335.78,349.33 336.28,349.33 336.28,346.43 336.79,346.43 336.79,349.61 337.29,349.61 337.29,350.46 337.8,350.46 337.8,347.61 338.31,347.61 338.31,347.53 338.81,347.53 338.81,350.98 339.32,350.98 339.32,349.88 339.82,349.88 339.82,353.56 340.33,353.56 340.33,350.71 340.83,350.71 340.83,348.05 341.34,348.05 341.34,350.46 341.84,350.46 341.84,348.65 342.35,348.65 342.35,352.64 342.85,352.64 342.85,352.89 343.36,352.89 343.36,351.11 343.86,351.11 343.86,350.55 344.37,350.55 344.37,354.25 344.87,354.25 344.87,352.18 345.38,352.18 345.38,354.92 345.88,354.92 345.88,350.16 346.39,350.16 346.39,350.89 346.89,350.89 346.89,349.78 347.4,349.78 347.4,348.25 347.91,348.25 347.91,354.75 348.41,354.75 348.41,352.18 348.92,352.18 348.92,347.48 349.42,347.48 349.42,350.36 349.93,350.36 349.93,345.64 350.43,345.64 350.43,351.6 350.94,351.6 350.94,351.47 351.44,351.47 351.44,348.96 351.95,348.96 351.95,349.13 352.45,349.13 352.45,350.45 352.96,350.45 352.96,351.04 353.46,351.04 353.46,349.68 353.97,349.68 353.97,348.94 354.47,348.94 354.47,350.25 354.98,350.25 354.98,350.12 355.48,350.12 355.48,352.59 355.99,352.59 355.99,351.64 356.49,351.64 356.49,352.46 357,352.46 357,349.41 357.51,349.41 357.51,352.37 358.01,352.37 358.01,352.89 358.52,352.89 358.52,353.19 359.02,353.19 359.02,354.49 359.53,354.49 359.53,354.68 360.03,354.68 360.03,352.91 360.54,352.91 360.54,357.45 361.04,357.45 361.04,356.81 361.55,356.81 361.55,353.49 362.05,353.49 362.05,355.04 362.56,355.04 362.56,351.49 363.06,351.49 363.06,350.8 363.57,350.8 363.57,353.07 364.07,353.07 364.07,356.65 364.58,356.65 364.58,353.78 365.08,353.78 365.08,351.34 365.59,351.34 365.59,354.95 366.09,354.95 366.09,353.57 366.6,353.57 366.6,352.83 366.6,352.83 366.6,353.58 367.6,353.58 367.6,350.7 368.6,350.7 368.6,349.95 369.6,349.95 369.6,348.68 370.6,348.68 370.6,347.4 371.6,347.4 371.6,346.54 372.6,346.54 372.6,345.41 373.6,345.41 373.6,344.3 374.6,344.3 374.6,343.21 375.6,343.21 375.6,342.19 376.6,342.19 376.6,340.48 377.6,340.48 377.6,339.54 378.6,339.54 378.6,337.89 379.6,337.89 379.6,336.39 380.6,336.39 380.6,334.9 381.6,334.9 381.6,333.22 382.6,333.22 382.6,331.6 383.6,331.6 383.6,330.94 384.6,330.94 384.6,329.57 385.6,329.57 385.6,328.45 386.6,328.45 386.6,327.12 387.6,327.12 387.6,325.07 388.6,325.07 388.6,323.97 389.6,323.97 389.6,322.44 390.6,322.44 390.6,322.74 391.6,322.74 391.6,321.77 392.6,321.77 392.6,321.26 393.6,321.26 393.6,320.17 394.6,320.17 394.6,319.37 395.6,319.37 395.6,318.48 396.6,318.48 396.6,317.43 397.6,317.43 397.6,316.43 398.6,316.43 398.6,314.39 399.6,314.39 399.6,314.09 400.6,314.09 400.6,312.49 401.6,312.49 401.6,311.64 402.6,311.64 402.6,310.72 403.6,310.72 403.6,309.62 404.6,309.62 404.6,308.89 405.6,308.89 405.6,307.95 406.6,307.95 406.6,306.58 407.6,306.58 407.6,305.28 408.6,305.28 408.6,305.01 409.6,305.01 409.6,304.3 410.6,304.3 410.6,303.82 411.6,303.82 411.6,303.04 412.6,303.04 412.6,301.7 413.6,301.7 413.6,301.58 414.6,301.58 414.6,301.14 415.6,301.14 415.6,300.9 416.6,300.9 416.6,299.6 417.6,299.6 417.6,299.24 418.6,299.24 418.6,298.49 419.6,298.49 419.6,297.44 420.6,297.44 420.6,297.6 421.6,297.6 421.6,297.41 422.6,297.41 422.6,296.85 423.6,296.85 423.6,295.51 424.6,295.51 424.6,295.86 425.6,295.86 425.6,295.02 426.6,295.02 426.6,294.04 427.6,294.04 427.6,294.42 428.6,294.42 428.6,293.49 429.6,293.49 429.6,293.5 430.6,293.5 430.6,294.4 431.6,294.4 431.6,294.54 432.6,294.54 432.6,293.69 433.6,293.69 433.6,293.31 434.6,293.31 434.6,294.57 435.6,294.57 435.6,294.49 436.6,294.49 436.6,294.07 437.6,294.07 437.6,293.81 438.6,293.81 438.6,295.7 439.6,295.7 439.6,294.69 440.6,294.69 440.6,294.78 441.6,294.78 441.6,296.11 442.6,296.11 442.6,296.77 443.6,296.77 443.6,296.71 444.6,296.71 444.6,298.12 445.6,298.12 445.6,298.4 446.6,298.4 446.6,299.31 447.6,299.31 447.6,300.19 448.6,300.19 448.6,300.36 449.6,300.36 449.6,301.32 450.6,301.32 450.6,302.88 451.6,302.88 451.6,302.18 452.6,302.18 452.6,303.78 453.6,303.78 453.6,305.04 454.6,305.04 454.6,305.43 455.6,305.43 455.6,306.15 456.6,306.15 456.6,305.91 457.6,305.91 457.6,307.2 458.6,307.2 458.6,308.3 459.6,308.3 459.6,309.65 460.6,309.65 460.6,310.46 461.6,310.46 461.6,310.52 462.6,310.52 462.6,310.89 463.6,310.89 463.6,312.82 464.6,312.82 464.6,313.01 465.6,313.01 465.6,312.34 466.6,312.34 466.6,313.63 467.6,313.63 467.6,313.96 468.6,313.96 468.6,314.78 469.6,314.78 469.6,315.21 470.6,315.21 470.6,316.72 471.6,316.72 471.6,317.87 472.6,317.87 472.6,319.45 473.6,319.45 473.6,320.9 474.6,320.9 474.6,320.05 475.6,320.05 475.6,318.92 476.6,318.92 476.6,318.67 477.6,318.67 477.6,319.87 478.6,319.87 478.6,321.49 479.6,321.49 479.6,322.71 480.6,322.71 480.6,323.17 481.6,323.17 481.6,323.53 482.6,323.53 482.6,322.77 483.6,322.77 483.6,321.88 484.6,321.88 484.6,322.99 485.6,322.99 485.6,324.13 486.6,324.13 486.6,324.63 487.6,324.63 487.6,325.33 488.6,325.33 488.6,326.09 489.6,326.09 489.6,327.09 490.6,327.09 490.6,326.53 491.6,326.53 491.6,327.69 492.6,327.69 492.6,328.17 493.6,328.17 493.6,328.72 494.6,328.72 494.6,328.78 495.6,328.78 495.6,330.23 496.6,330.23 496.6,330.55 497.6,330.55 497.6,330.99 498.6,330.99 498.6,330.66 499.6,330.66 499.6,331 500.6,331 500.6,330.47 501.6,330.47 501.6,330.56 502.6,330.56 502.6,329.36 503.6,329.36 503.6,328.88 504.6,328.88 504.6,327.91 505.6,327.91 505.6,329.43 506.6,329.43 506.6,331.74 507.6,331.74 507.6,333.32 508.6,333.32 508.6,331.94 509.6,331.94 509.6,329.49 510.6,329.49 510.6,329.58 511.6,329.58 511.6,331.3 512.6,331.3 512.6,331.69 513.6,331.69 513.6,331.15 514.6,331.15 514.6,330.8 515.6,330.8 515.6,329.83 516.6,329.83 516.6,329.91 517.6,329.91 517.6,328.39 518.6,328.39 518.6,328.97 519.6,328.97 519.6,330.7 520.6,330.7 520.6,332.19 521.6,332.19 521.6,334.02 522.6,334.02 522.6,333.53 523.6,333.53 523.6,334.98 524.6,334.98 524.6,333.66 525.6,333.66 525.6,334.17 526.6,334.17 526.6,332.74 527.6,332.74 527.6,336.7 528.6,336.7 528.6,338.71 529.6,338.71 529.6,341.88 530.6,341.88 530.6,343.94 531.6,343.94 531.6,347.03 532.6,347.03 532.6,350.72 533.6,350.72 533.6,353.86 534.6,353.86 534.6,356.53 535.6,356.53 535.6,358.78 535.8,358.78 535.8,362.6 593.8,362.6"/><g stroke="#ff0000" stroke-width="2.5"><line x1="38.85" y1="362.6" x2="77.1" y2="362.6"/><line x1="94.6" y1="362.6" x2="100.1" y2="362.6"/><line x1="110.1" y1="362.6" x2="112" y2="362.6"/><line x1="201" y1="362.6" x2="299.8" y2="362.6"/><line x1="535.8" y1="362.6" x2="593.8" y2="362.6"/></g><text x="38.74" y="373.4" text-anchor="middle" font-size="11.6">0</text><text x="139.79" y="373.4" text-anchor="middle" font-size="11.6">200</text><text x="240.84" y="373.4" text-anchor="middle" font-size="11.6">400</text><text x="341.9" y="373.4" text-anchor="middle" font-size="11.6">600</text><text x="442.95" y="373.4" text-anchor="middle" font-size="11.6">800</text><text x="544.3" y="373.4" text-anchor="middle" font-size="11.6">1000</text><text x="16.2" y="326.6" font-size="11.8" textLength="12.3" lengthAdjust="spacingAndGlyphs">10</text><text x="28.7" y="322" font-size="8.4">3</text><text x="16.2" y="285.4" font-size="11.8" textLength="12.3" lengthAdjust="spacingAndGlyphs">10</text><text x="28.7" y="280.8" font-size="8.4">4</text><text x="16.2" y="244.2" font-size="11.8" textLength="12.3" lengthAdjust="spacingAndGlyphs">10</text><text x="28.7" y="239.6" font-size="8.4">5</text><text transform="translate(9.5,291.6) rotate(-90)" x="-19.2" font-size="12" textLength="38.4" lengthAdjust="spacingAndGlyphs">Counts</text><text x="316.8" y="387.4" text-anchor="middle" font-size="12" textLength="252.3" lengthAdjust="spacingAndGlyphs">Detected pulse height (ADC channel number)</text><text x="289.3" y="211.6" font-size="14" textLength="62.5" lengthAdjust="spacingAndGlyphs">Back side</text></svg></body></html>
